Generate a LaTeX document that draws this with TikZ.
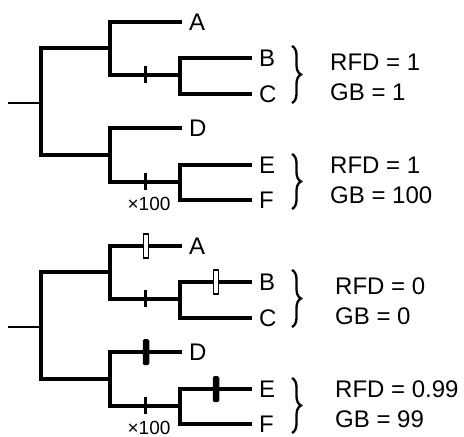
\documentclass[tikz,border=0pt]{standalone}
\usepackage{fontspec}
\setmainfont{Liberation Sans}
\usetikzlibrary{positioning,calc,decorations.pathreplacing}
\tikzset{branch/.style={line width=3.2pt},
         stub/.style={line width=2.6pt},
         tick/.style={line width=3pt},
         openbar/.style={draw,fill=white,line width=1.1pt,minimum width=5.5pt,minimum height=24pt,inner sep=0pt},
         solidbar/.style={fill=black,rounded corners=1.5pt,minimum width=6.5pt,minimum height=26pt,inner sep=0pt},
         taxon/.style={anchor=west,inner xsep=7pt,inner ysep=0pt,font=\fontsize{24}{24}\selectfont},
         score/.style={anchor=west,inner sep=0pt,align=left,font=\fontsize{24}{30}\selectfont},
         times/.style={inner sep=0pt,font=\fontsize{19}{19}\selectfont},
         grp/.style={decorate,decoration={brace,amplitude=9pt},line width=2.3pt}
}
\begin{document}
\begin{tikzpicture}[x=1pt,y=-1pt]
  \useasboundingbox (0,0) rectangle (464,437);
  \foreach \t/\dy/\sx/\ra/\ga/\rb/\gb in {1/0/330/1/1/1/100, 2/224/335/0/0/0.99/99}{
    \begin{scope}[yshift=-\dy pt]
      \coordinate (r\t) at (8,103);
      \coordinate (n\t) at (41,103);
      \coordinate (u\t) at (110,48);
      \coordinate (l\t) at (110,155);
      \coordinate (bc\t) at (180,75);
      \coordinate (ef\t) at (180,182);
      \node[taxon] (a\t) at (182,22) {A};
      \node[taxon] (b\t) at (252,58) {B};
      \node[taxon] (c\t) at (252,94) {C};
      \node[taxon] (d\t) at (182,128) {D};
      \node[taxon] (e\t) at (252,165) {E};
      \node[taxon] (f\t) at (252,200) {F};
      \draw[stub] (r\t) -- (n\t);
      \draw[branch] (u\t) -| (n\t) |- (l\t);
      \draw[branch] (a\t.west) -| (u\t) |- (bc\t);
      \draw[branch] (b\t.west) -| (bc\t) |- (c\t.west);
      \draw[branch] (d\t.west) -| (l\t) |- (ef\t);
      \draw[branch] (e\t.west) -| (ef\t) |- (f\t.west);
      % ticks on the internal branches
      \coordinate (t\t) at ($(u\t |- bc\t)!.5!(bc\t)$);
      \coordinate (s\t) at ($(l\t |- ef\t)!.5!(ef\t)$);
      \draw[tick] ([yshift=9pt]t\t) -- ([yshift=-8pt]t\t);
      \draw[tick] ([yshift=9pt]s\t) -- ([yshift=-8pt]s\t);
      \node[times,below=15pt of s\t,xshift=4pt] (m\t) {×100};
      \draw[grp] ([xshift=40pt,yshift=12pt]b\t.west) -- ([xshift=40pt,yshift=-9pt]c\t.west);
      \draw[grp] ([xshift=40pt,yshift=11pt]e\t.west) -- ([xshift=40pt,yshift=-9pt]f\t.west);
      \node[score] (p\t) at (\sx,77) {RFD = \ra\\GB = \ga};
      \node[score] (q\t) at (\sx,180) {RFD = \rb\\GB = \gb};
    \end{scope}
  }
  \node[openbar] at ($(u2 |- a2.west)!.5!(a2.west)$) {};
  \node[openbar] at ($(bc2 |- b2.west)!.5!(b2.west)$) {};
  \node[solidbar] at ($(l2 |- d2.west)!.5!(d2.west)$) {};
  \node[solidbar] at ($(ef2 |- e2.west)!.5!(e2.west)$) {};
\end{tikzpicture}
\end{document}
